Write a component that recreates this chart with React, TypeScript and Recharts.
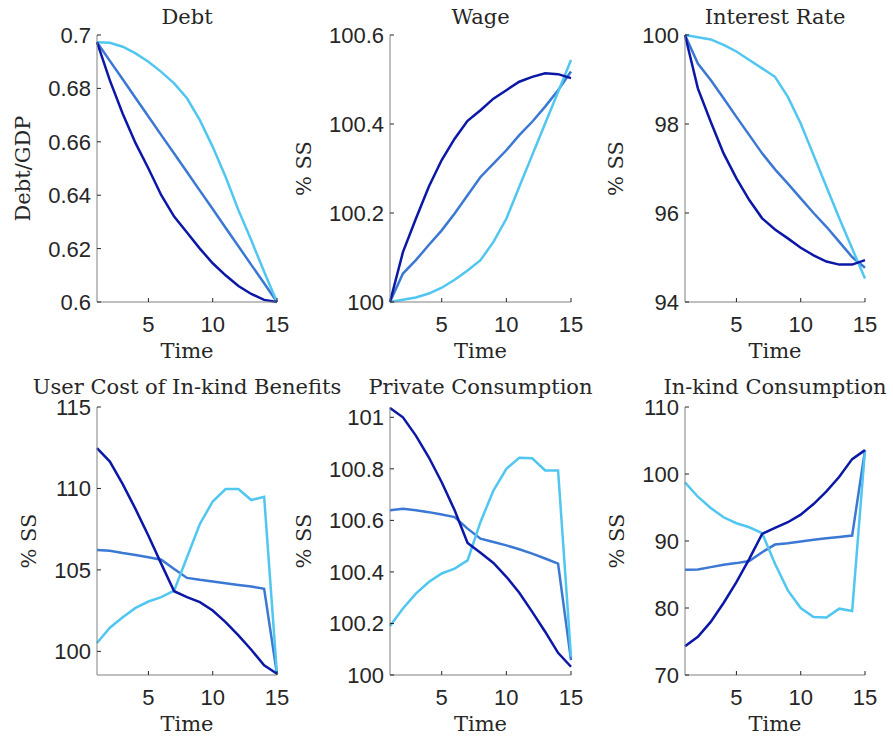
import React from "react";
import { LineChart, Line, XAxis, YAxis } from "recharts";

const time = [1, 2, 3, 4, 5, 6, 7, 8, 9, 10, 11, 12, 13, 14, 15];
const timeTicks = [5, 10, 15];

// Debt
const debtDark = [0.6973, 0.683, 0.6705, 0.6595, 0.65, 0.64, 0.632, 0.626, 0.62, 0.6145, 0.61, 0.606, 0.603, 0.6008, 0.6];
const debtMid = [0.6973, 0.6903, 0.6834, 0.6764, 0.6695, 0.6625, 0.6556, 0.6487, 0.6417, 0.6348, 0.6278, 0.6209, 0.6139, 0.607, 0.6];
const debtLight = [0.6973, 0.6971, 0.6956, 0.6931, 0.69, 0.6862, 0.6819, 0.6763, 0.6681, 0.6581, 0.6469, 0.6344, 0.6231, 0.6113, 0.6];

// Wage
const wageDark = [100, 100.112, 100.187, 100.259, 100.319, 100.367, 100.407, 100.431, 100.457, 100.476, 100.495, 100.506, 100.514, 100.512, 100.503];
const wageMid = [100, 100.064, 100.094, 100.128, 100.161, 100.199, 100.24, 100.281, 100.311, 100.341, 100.375, 100.405, 100.439, 100.476, 100.518];
const wageLight = [100, 100.005, 100.01, 100.019, 100.032, 100.05, 100.071, 100.094, 100.135, 100.187, 100.259, 100.33, 100.401, 100.472, 100.544];

// Interest Rate
const rateDark = [100, 98.8, 98.05, 97.34, 96.78, 96.29, 95.88, 95.63, 95.43, 95.22, 95.05, 94.91, 94.84, 94.84, 94.94];
const rateMid = [100, 99.36, 98.99, 98.58, 98.16, 97.75, 97.34, 96.98, 96.66, 96.33, 96.0, 95.69, 95.35, 95.01, 94.77];
const rateLight = [100, 99.95, 99.9, 99.78, 99.63, 99.44, 99.25, 99.06, 98.61, 98.01, 97.3, 96.59, 95.88, 95.2, 94.53];

// User Cost of In-kind Benefits
const costDark = [112.47, 111.65, 110.27, 108.73, 107.1, 105.37, 103.69, 103.33, 103.02, 102.51, 101.8, 100.98, 100.1, 99.14, 98.63];
const costMid = [106.22, 106.18, 106.04, 105.92, 105.78, 105.63, 105.06, 104.51, 104.39, 104.29, 104.18, 104.08, 103.98, 103.84, 98.59];
const costLight = [100.51, 101.45, 102.1, 102.67, 103.06, 103.33, 103.73, 105.78, 107.82, 109.2, 109.96, 109.96, 109.29, 109.49, 98.59];

// Private Consumption
const privDark = [101.036, 101.0, 100.929, 100.845, 100.748, 100.639, 100.512, 100.474, 100.435, 100.381, 100.319, 100.245, 100.168, 100.086, 100.032];
const privMid = [100.639, 100.645, 100.639, 100.632, 100.623, 100.613, 100.568, 100.529, 100.516, 100.503, 100.488, 100.471, 100.452, 100.432, 100.058];
const privLight = [100.19, 100.258, 100.316, 100.361, 100.394, 100.413, 100.445, 100.594, 100.716, 100.8, 100.843, 100.841, 100.794, 100.794, 100.071];

// In-kind Consumption
const inkindDark = [74.3, 75.69, 77.92, 80.75, 83.87, 87.34, 91.06, 91.95, 92.8, 93.94, 95.52, 97.41, 99.59, 102.22, 103.56];
const inkindMid = [85.71, 85.76, 86.1, 86.45, 86.7, 87.0, 88.33, 89.47, 89.67, 89.92, 90.17, 90.42, 90.61, 90.81, 103.56];
const inkindLight = [98.75, 96.61, 94.93, 93.54, 92.65, 92.05, 91.16, 86.6, 82.63, 80.0, 78.67, 78.57, 79.9, 79.55, 103.56];

const DARK = "#0b17a6";
const MID = "#3a78d4";
const LIGHT = "#50c6f0";
const BOX = "#808080";
const INK = "#262626";
const SANS = '"Liberation Sans", Arial, sans-serif';
const SERIF = '"DejaVu Serif", serif';

type Panel = {
  title: string;
  ylabel: string;
  dark: number[];
  mid: number[];
  light: number[];
  domain: [number, number];
  ticks: number[];
  cell: [number, number, number, number];
  plot: [number, number, number, number];
  ylabelX: number;
  titleY: number;
  timeY: number;
};

const panels: Panel[] = [
  { title: "Debt", ylabel: "Debt/GDP", dark: debtDark, mid: debtMid, light: debtLight, domain: [0.6, 0.7], ticks: [0.6, 0.62, 0.64, 0.66, 0.68, 0.7], cell: [0, 0, 290, 370], plot: [97, 35, 277, 302], ylabelX: 30, titleY: 24, timeY: 358 },
  { title: "Wage", ylabel: "% SS", dark: wageDark, mid: wageMid, light: wageLight, domain: [100, 100.6], ticks: [100, 100.2, 100.4, 100.6], cell: [290, 0, 300, 370], plot: [390, 35, 571, 302], ylabelX: 311, titleY: 24, timeY: 358 },
  { title: "Interest Rate", ylabel: "% SS", dark: rateDark, mid: rateMid, light: rateLight, domain: [94, 100], ticks: [94, 96, 98, 100], cell: [590, 0, 303, 370], plot: [685, 35, 865, 302], ylabelX: 623, titleY: 24, timeY: 358 },
  { title: "User Cost of In-kind Benefits", ylabel: "% SS", dark: costDark, mid: costMid, light: costLight, domain: [98.55, 115], ticks: [100, 105, 110, 115], cell: [0, 370, 290, 370], plot: [97, 407, 277, 675], ylabelX: 36, titleY: 394, timeY: 731 },
  { title: "Private Consumption", ylabel: "% SS", dark: privDark, mid: privMid, light: privLight, domain: [100, 101.04], ticks: [100, 100.2, 100.4, 100.6, 100.8, 101], cell: [290, 370, 300, 370], plot: [390, 407, 571, 675], ylabelX: 311, titleY: 394, timeY: 731 },
  { title: "In-kind Consumption", ylabel: "% SS", dark: inkindDark, mid: inkindMid, light: inkindLight, domain: [70, 110], ticks: [70, 80, 90, 100, 110], cell: [590, 370, 303, 370], plot: [685, 407, 865, 675], ylabelX: 624, titleY: 394, timeY: 731 },
];

const fmt = (v: number) => String(Number(v.toFixed(3)));

const BottomTick = (props: any) => {
  const { x, y, payload } = props;
  return (
    <g>
      <line x1={x} x2={x} y1={y} y2={y - 4} stroke={INK} strokeWidth={1} />
      <text x={x} y={y + 30} textAnchor="middle" fill={INK} fontSize={22} fontFamily={SANS}>
        {fmt(payload.value)}
      </text>
    </g>
  );
};

const TopTick = (props: any) => {
  const { x, y } = props;
  return <line x1={x} x2={x} y1={y} y2={y + 4} stroke={INK} strokeWidth={1} />;
};

const LeftTick = (props: any) => {
  const { x, y, payload } = props;
  return (
    <g>
      <line x1={x} x2={x + 4} y1={y} y2={y} stroke={INK} strokeWidth={1} />
      <text x={x - 6} y={y + 8} textAnchor="end" fill={INK} fontSize={22} fontFamily={SANS}>
        {fmt(payload.value)}
      </text>
    </g>
  );
};

const RightTick = (props: any) => {
  const { x, y } = props;
  return <line x1={x} x2={x - 4} y1={y} y2={y} stroke={INK} strokeWidth={1} />;
};

function PanelChart({ p }: { p: Panel }) {
  const [cx, cy, cw, ch] = p.cell;
  const [pl, pt, pr, pb] = p.plot;
  const rows = time.map((t, i) => ({ t, dark: p.dark[i], mid: p.mid[i], light: p.light[i] }));
  return (
    <div style={{ position: "absolute", left: cx, top: cy }}>
      <LineChart
        width={cw}
        height={ch}
        data={rows}
        margin={{ top: pt - cy, right: cx + cw - pr, bottom: 0, left: 0 }}
      >
        <XAxis
          dataKey="t"
          type="number"
          domain={[1, 15]}
          ticks={timeTicks}
          interval={0}
          height={cy + ch - pb}
          tickSize={0}
          tickMargin={0}
          tickLine={false}
          axisLine={{ stroke: BOX }}
          tick={BottomTick}
        />
        <XAxis
          xAxisId="top"
          orientation="top"
          dataKey="t"
          type="number"
          domain={[1, 15]}
          ticks={timeTicks}
          interval={0}
          height={0}
          tickSize={0}
          tickMargin={0}
          tickLine={false}
          axisLine={{ stroke: BOX }}
          tick={TopTick}
        />
        <YAxis
          type="number"
          domain={p.domain}
          ticks={p.ticks}
          interval={0}
          width={pl - cx}
          tickSize={0}
          tickMargin={0}
          tickLine={false}
          axisLine={{ stroke: BOX }}
          tick={LeftTick}
        />
        <YAxis
          yAxisId="right"
          orientation="right"
          type="number"
          domain={p.domain}
          ticks={p.ticks}
          interval={0}
          width={0}
          tickSize={0}
          tickMargin={0}
          tickLine={false}
          axisLine={{ stroke: BOX }}
          tick={RightTick}
        />
        <Line type="linear" dataKey="mid" stroke={MID} strokeWidth={2.5} dot={false} isAnimationActive={false} />
        <Line type="linear" dataKey="light" stroke={LIGHT} strokeWidth={2.5} dot={false} isAnimationActive={false} />
        <Line type="linear" dataKey="dark" stroke={DARK} strokeWidth={2.5} dot={false} isAnimationActive={false} />
      </LineChart>
    </div>
  );
}

export default function App() {
  return (
    <div style={{ position: "absolute", left: 0, top: 0, width: 893, height: 740, background: "#fff" }}>
      {panels.map((p) => (
        <PanelChart key={p.title} p={p} />
      ))}
      <svg
        width={893}
        height={740}
        style={{ position: "absolute", left: 0, top: 0, pointerEvents: "none" }}
      >
        {panels.map((p) => {
          const midX = (p.plot[0] + p.plot[2]) / 2;
          const midY = (p.plot[1] + p.plot[3]) / 2;
          return (
            <g key={p.title} fill={INK} fontFamily={SERIF} fontSize={21}>
              <text x={midX} y={p.titleY} textAnchor="middle">{p.title}</text>
              <text x={midX} y={p.timeY} textAnchor="middle">Time</text>
              <text
                x={p.ylabelX}
                y={midY}
                textAnchor="middle"
                transform={`rotate(-90 ${p.ylabelX} ${midY})`}
              >
                {p.ylabel}
              </text>
            </g>
          );
        })}
      </svg>
    </div>
  );
}
